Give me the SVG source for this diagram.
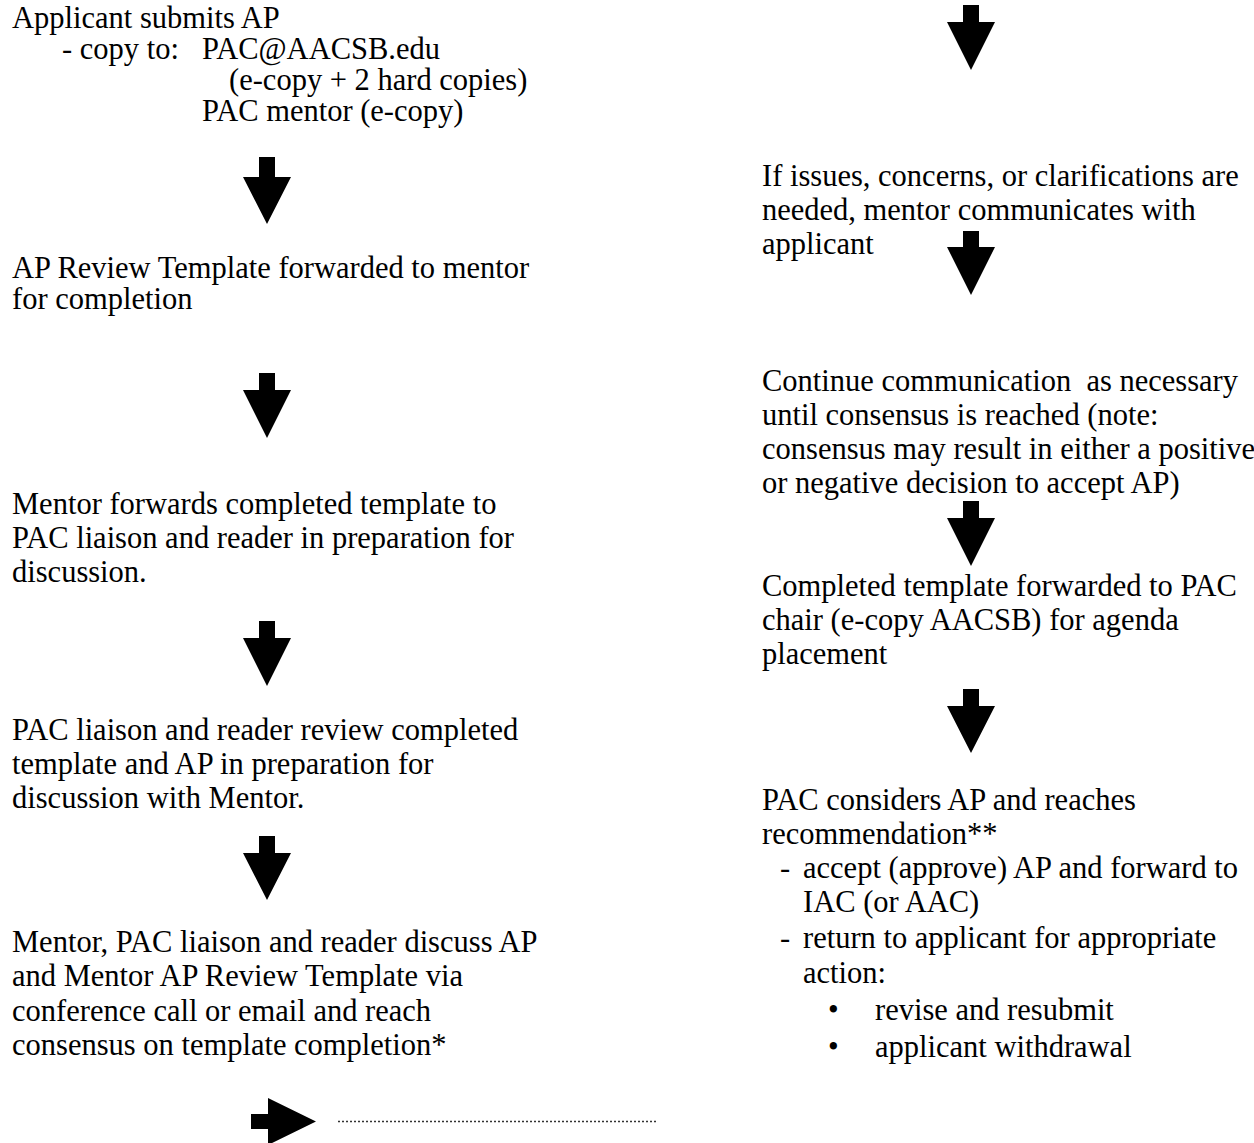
<svg xmlns="http://www.w3.org/2000/svg" width="1254" height="1143" viewBox="0 0 1254 1143">
<style>
text{font-family:"Liberation Serif","Times New Roman",serif;font-size:30.5px;fill:#000}
.arr{fill:#000;stroke:none}
.dot{stroke:#333;stroke-width:1.5;stroke-dasharray:2 2;fill:none}
</style>
<rect width="1254" height="1143" fill="#fff"/>
<g id="connectors">
<polygon class="arr" points="259,157 275,157 275,177 291,177 267,224 243,177 259,177"/>
<polygon class="arr" points="259,373 275,373 275,390 291,390 267,438 243,390 259,390"/>
<polygon class="arr" points="259,621 275,621 275,638 291,638 267,686 243,638 259,638"/>
<polygon class="arr" points="259,836 275,836 275,853 291,853 267,900 243,853 259,853"/>
<polygon class="arr" points="251,1114 268,1114 268,1098 316,1121.5 268,1145 268,1129 251,1129"/>
<line class="dot" x1="338" y1="1121.5" x2="657" y2="1121.5"/>
<polygon class="arr" points="963,5 979,5 979,22 995,22 971,70 947,22 963,22"/>
<polygon class="arr" points="963,231 979,231 979,247 995,247 971,295 947,247 963,247"/>
<polygon class="arr" points="963,501 979,501 979,518 995,518 971,566 947,518 963,518"/>
<polygon class="arr" points="963,689 979,689 979,706 995,706 971,753 947,706 963,706"/>
</g>
<g id="n1">
<text x="12" y="28">Applicant submits AP</text>
<text x="62" y="59">- copy to:</text>
<text x="202" y="59">PAC@AACSB.edu</text>
<text x="229" y="90">(e-copy + 2 hard copies)</text>
<text x="202" y="121">PAC mentor (e-copy)</text>
</g>
<g id="n2">
<text x="12" y="278">AP Review Template forwarded to mentor</text>
<text x="12" y="309">for completion</text>
</g>
<g id="n3">
<text x="12" y="514">Mentor forwards completed template to</text>
<text x="12" y="548">PAC liaison and reader in preparation for</text>
<text x="12" y="582">discussion.</text>
</g>
<g id="n4">
<text x="12" y="740">PAC liaison and reader review completed</text>
<text x="12" y="774">template and AP in preparation for</text>
<text x="12" y="808">discussion with Mentor.</text>
</g>
<g id="n5">
<text x="12" y="951.5">Mentor, PAC liaison and reader discuss AP</text>
<text x="12" y="986">and Mentor AP Review Template via</text>
<text x="12" y="1020.5">conference call or email and reach</text>
<text x="12" y="1055">consensus on template completion*</text>
</g>
<g id="n6">
<text x="762" y="186">If issues, concerns, or clarifications are</text>
<text x="762" y="220">needed, mentor communicates with</text>
<text x="762" y="254">applicant</text>
</g>
<g id="n7">
<text x="762" y="391">Continue communication&#160; as necessary</text>
<text x="762" y="425">until consensus is reached (note:</text>
<text x="762" y="459">consensus may result in either a positive</text>
<text x="762" y="493">or negative decision to accept AP)</text>
</g>
<g id="n8">
<text x="762" y="596">Completed template forwarded to PAC</text>
<text x="762" y="630">chair (e-copy AACSB) for agenda</text>
<text x="762" y="664">placement</text>
</g>
<g id="n9">
<text x="762" y="810">PAC considers AP and reaches</text>
<text x="762" y="844">recommendation**</text>
<text x="780" y="878">-</text>
<text x="803" y="878">accept (approve) AP and forward to</text>
<text x="803" y="912">IAC (or AAC)</text>
<text x="780" y="948">-</text>
<text x="803" y="948">return to applicant for appropriate</text>
<text x="803" y="982.5">action:</text>
<text x="828" y="1020">•</text>
<text x="875" y="1020">revise and resubmit</text>
<text x="828" y="1056.5">•</text>
<text x="875" y="1056.5">applicant withdrawal</text>
</g>
</svg>
